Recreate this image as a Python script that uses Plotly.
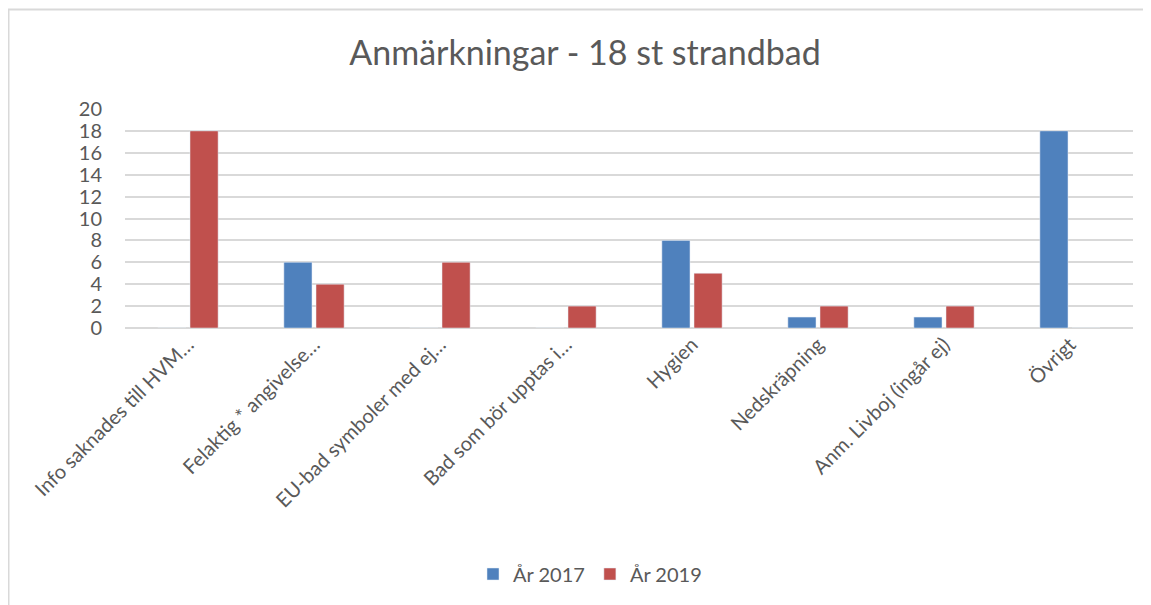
import plotly.graph_objects as go

categories = [
    "Info saknades till HVM…",
    "Felaktig * angivelse…",
    "EU-bad symboler med ej…",
    "Bad som bör upptas i…",
    "Hygien",
    "Nedskräpning",
    "Anm. Livboj (ingår ej)",
    "Övrigt",
]
values_2017 = [0, 6, 0, 0, 8, 1, 1, 18]
values_2019 = [18, 4, 6, 2, 5, 2, 2, 0]
y_ticks = [0, 2, 4, 6, 8, 10, 12, 14, 16, 18, 20]

FONT = "Lato"
TXT = "#595959"

fig = go.Figure()
fig.add_trace(go.Bar(name="År 2017", x=categories, y=values_2017, marker_color="#4F81BD"))
fig.add_trace(go.Bar(name="År 2019", x=categories, y=values_2019, marker_color="#C0504D"))

OFF = 8  # page body margin
W, H = 1151 - OFF, 605 - OFF
L, T = 125 - OFF, 109 - OFF
R = W - (1133 - OFF)
B = H - (328 - OFF)
pw, ph = W - L - R, H - T - B

def px_to_paper_x(px):
    return (px - OFF - L) / pw

def px_to_paper_y(py):
    return (H - B - (py - OFF)) / ph

fig.update_layout(
    width=W, height=H,
    margin=dict(l=L, r=R, t=T, b=B, autoexpand=False),
    paper_bgcolor="white", plot_bgcolor="white",
    barmode="group", bargap=0.49, bargroupgap=0.125,
    font=dict(family=FONT, color=TXT, size=18),
    title=dict(text="Anmärkningar - 18 st strandbad", x=(585 - OFF) / W, xref="container", xanchor="center",
               y=1 - (53 - OFF) / H, yref="container", yanchor="middle",
               font=dict(family=FONT, size=34, color=TXT)),
    legend=dict(orientation="h", x=(590 - OFF) / W, xref="container", xanchor="center",
                y=1 - (574 - OFF) / H, yref="container", yanchor="middle",
                font=dict(family=FONT, size=20, color=TXT), itemwidth=30, traceorder="normal"),
    xaxis=dict(tickangle=-45, showgrid=False, showline=False, ticks="",
               tickfont=dict(family=FONT, size=20, color=TXT)),
    yaxis=dict(range=[0, 20], tickvals=y_ticks, showgrid=True, gridcolor="#D9D9D9", gridwidth=1.5,
               zeroline=True, zerolinecolor="#D9D9D9", zerolinewidth=1.5, ticks="",
               ticklabelstandoff=22,
               tickfont=dict(family=FONT, size=20, color=TXT)),
    shapes=[
        dict(type="line", xref="paper", yref="paper", layer="below",
             x0=px_to_paper_x(8.5), x1=px_to_paper_x(8.5), y0=px_to_paper_y(9), y1=px_to_paper_y(640),
             line=dict(color="#D9D9D9", width=2)),
        dict(type="line", xref="paper", yref="paper", layer="below",
             x0=px_to_paper_x(8), x1=px_to_paper_x(1200), y0=px_to_paper_y(9.5), y1=px_to_paper_y(9.5),
             line=dict(color="#D9D9D9", width=2)),
    ],
)

fig.write_html("out.html")
